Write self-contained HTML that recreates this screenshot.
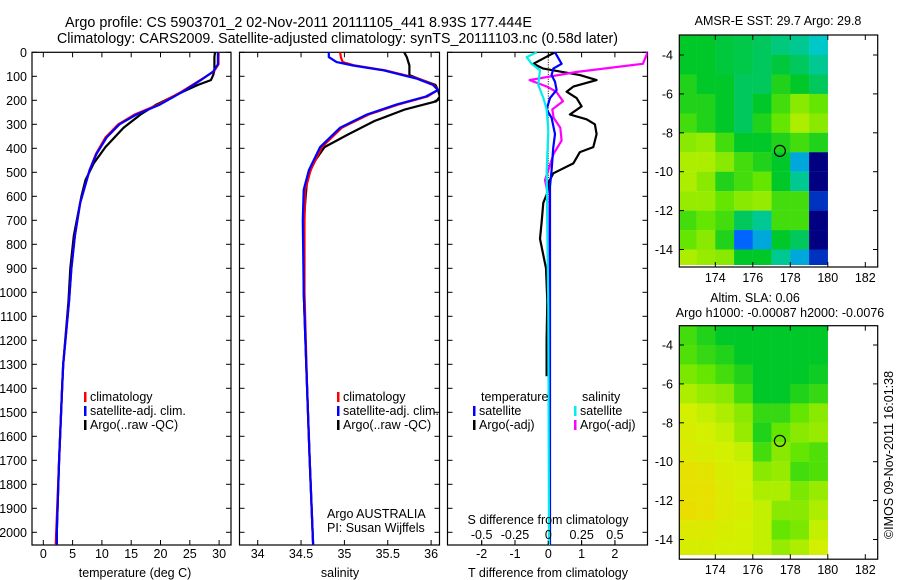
<!DOCTYPE html>
<html><head><meta charset="utf-8">
<style>
html,body{margin:0;padding:0;background:#fff;}
svg{display:block;font-family:"Liberation Sans",sans-serif;}
text{font-size:12.5px;fill:#000;}
</style></head>
<body>
<svg id="fig" width="900" height="580" viewBox="0 0 900 580" xmlns="http://www.w3.org/2000/svg">
<defs>
<clipPath id="c1"><rect x="32" y="52" width="199" height="493"/></clipPath>
<clipPath id="c2"><rect x="239.5" y="52" width="200" height="493"/></clipPath>
<clipPath id="c3"><rect x="447.5" y="52" width="200" height="493"/></clipPath>
</defs>
<text x="65" y="27" textLength="467" lengthAdjust="spacingAndGlyphs" style="font-size:14.3px">Argo profile: CS 5903701_2 02-Nov-2011 20111105_441 8.93S 177.444E</text>
<text x="57" y="43" textLength="561" lengthAdjust="spacingAndGlyphs" style="font-size:14.3px">Climatology: CARS2009. Satellite-adjusted climatology: synTS_20111103.nc (0.58d later)</text>
<text x="778" y="25" text-anchor="middle">AMSR-E SST: 29.7 Argo: 29.8</text>
<text x="755" y="302" text-anchor="middle">Altim. SLA: 0.06</text>
<text x="780" y="317" text-anchor="middle">Argo h1000: -0.00087 h2000: -0.0076</text>
<text transform="translate(893,455) rotate(-90)" text-anchor="middle">©IMOS 09-Nov-2011 16:01:38</text>
<g id="layer"></g>
</svg>
<script>
// ---------- data ----------
const depthTicks=[0,100,200,300,400,500,600,700,800,900,1000,1100,1200,1300,1400,1500,1600,1700,1800,1900,2000];
const tempTicks=[0,5,10,15,20,25,30];
const salTicks=[34,34.5,35,35.5,36];
const tdiffTicks=[-2,-1,0,1,2];
const sdiffTicks=[-0.5,-0.25,0,0.25,0.5];
const sdiffTickLabels=["-0.5","-0.25","0","0.25","0.5"];

const tempSatDepth=[0,50,80,116,164,218,259,300,355,423,491,559,627,764,900,1036,1300,1400,1700,2000,2060];
const tempSat=[29.8,29.8,29,26.9,23.8,19.9,15.9,13,10.8,9.1,7.9,7.1,6.3,5.4,4.8,4.4,3.4,3.2,2.7,2.3,2.3];
const tempClimDepth=[0,50,80,116,164,218,259,300,355,423,491,559,627,764,900,1036,1300,1400,1700,2000,2060];
const tempClim=[29.9,29.9,29.1,26.8,23.6,19.6,15.6,12.8,10.6,9.0,7.9,7.1,6.3,5.4,4.8,4.4,3.4,3.2,2.7,2.2,2.1];
const tempArgoDepth=[0,20,75,95,116,136,177,218,259,314,395,463,532,600,764,900,1036,1300,1400,1700,2000,2060];
const tempArgo=[29.3,29.2,29.2,29.0,28.6,26.4,22.7,19.3,16.6,13.7,10.6,8.6,7.2,6.5,5.2,4.6,4.3,3.4,3.2,2.7,2.3,2.3];

const salSatDepth=[0,20,41,55,75,109,136,157,184,218,259,314,395,491,573,700,1000,1400,1700,2060];
const salSat=[34.82,34.82,34.91,35.10,35.45,35.83,36.02,36.08,35.94,35.6,35.26,34.95,34.72,34.59,34.53,34.52,34.53,34.57,34.6,34.64];
const salClimDepth=[0,20,41,55,75,109,136,157,184,218,259,314,395,491,573,700,1000,1400,1700,2060];
const salClim=[34.95,34.96,34.98,35.12,35.47,35.85,36.03,36.08,35.96,35.62,35.28,34.97,34.74,34.61,34.55,34.54,34.54,34.57,34.6,34.64];
const salArgoDepth=[0,20,55,95,109,136,157,184,204,238,286,341,395,463,532,700,1000,1400,1700,2060];
const salArgo=[35.69,35.72,35.75,35.75,35.85,36.05,36.08,36.1,36.06,35.7,35.35,35.05,34.77,34.64,34.57,34.53,34.53,34.57,34.6,34.64];

const tdSatDepth=[0,48,68,95,123,157,191,238,273,341,395,491,559,1063,2060];
const tdSat=[0.2,0.4,0.15,0.1,0.2,0.25,0.05,-0.05,0.1,0.2,0.15,0.1,0.05,0.05,0.05];
const tdArgoDepth=[0,48,68,95,116,143,164,191,225,259,279,300,341,395,416,463,504,545,586,627,709,777,900,1036,1200,1350];
const tdArgo=[0.2,-0.45,-0.15,0.95,1.45,0.75,0.55,0.85,1.0,0.65,1.15,1.4,1.45,1.35,0.95,0.75,0.15,0,-0.03,-0.15,-0.2,-0.25,-0.07,-0.03,-0.05,-0.05];
const sdArgoDepth=[0,7,48,82,116,143,164,204,238,273,314,368,423,491,532,573,627,1000];
const sdArgo=[0.74,0.74,0.71,0.21,-0.14,-0.01,0.06,0.11,0.03,0.04,0.09,0.1,0.04,0,-0.025,-0.01,-0.005,0];
const sdSatDepth=[0,20,48,75,136,191,238,327,491,764,1063,2060];
const sdSat=[-0.087,-0.162,-0.125,-0.062,-0.075,-0.037,-0.012,0,-0.012,-0.007,0,0.005];

// map grids: rows lat -3..-15 (1 deg), cols lon 172..180
const sstGrid=[
[0.5,0.5,0.48,0.47,0.45,0.42,0.4,0.35],
[0.5,0.5,0.48,0.47,0.45,0.48,0.45,0.4],
[0.55,0.5,0.5,0.45,0.45,0.55,0.5,0.45],
[0.55,0.55,0.5,0.45,0.5,0.6,0.7,0.65],
[0.6,0.55,0.5,0.45,0.55,0.65,0.75,0.7],
[0.7,0.72,0.6,0.5,0.5,0.55,0.6,0.55],
[0.75,0.75,0.7,0.6,0.55,0.5,0.3,0.0],
[0.75,0.7,0.55,0.6,0.65,0.5,0.4,0.0],
[0.72,0.72,0.65,0.7,0.72,0.6,0.6,0.1],
[0.6,0.65,0.6,0.45,0.4,0.6,0.6,0.0],
[0.65,0.7,0.55,0.2,0.3,0.5,0.45,0.0],
[0.75,0.72,0.7,0.5,0.5,0.4,0.3,0.1]];
const slaGrid=[
[0.6,0.55,0.5,0.5,0.5,0.5,0.5,0.5],
[0.62,0.58,0.55,0.5,0.5,0.5,0.5,0.5],
[0.68,0.65,0.6,0.55,0.5,0.5,0.5,0.52],
[0.75,0.72,0.7,0.6,0.5,0.5,0.55,0.58],
[0.8,0.78,0.75,0.7,0.58,0.58,0.65,0.7],
[0.82,0.8,0.78,0.72,0.55,0.65,0.7,0.72],
[0.85,0.82,0.8,0.78,0.6,0.7,0.65,0.62],
[0.9,0.88,0.82,0.8,0.7,0.72,0.6,0.62],
[0.9,0.9,0.85,0.8,0.75,0.75,0.68,0.72],
[0.92,0.9,0.85,0.82,0.78,0.7,0.7,0.75],
[0.85,0.85,0.82,0.8,0.78,0.65,0.68,0.78],
[0.82,0.82,0.8,0.8,0.78,0.72,0.75,0.8]];
const lonTicks=[174,176,178,180,182];
const latTicks=[-4,-6,-8,-10,-12,-14];
const argoLon=177.444, argoLat=-8.93;

// ---------- helpers ----------
const NS="http://www.w3.org/2000/svg";
const layer=document.getElementById('layer');
function el(tag,attrs,parent){const e=document.createElementNS(NS,tag);for(const k in attrs)e.setAttribute(k,attrs[k]);(parent||layer).appendChild(e);return e;}
const yD=d=>52.3+d*0.24;
const xT=t=>43.3+t*5.86;
const xS=s=>257.7+(s-34)*86.7;
const xTD=t=>548.3+t*33.3;
const xSD=s=>548.3+s*133.3;
const Y0=52.3,Y1=545;

function frame(x0,x1,name){
  const r=el('rect',{x:x0,y:Y0,width:x1-x0,height:Y1-Y0,fill:'none',stroke:'#000','stroke-width':1.2});
  
  
  depthTicks.forEach(d=>{const y=yD(d);
    el('line',{x1:x0,x2:x0+5,y1:y,y2:y,stroke:'#000'});
    el('line',{x1:x1-5,x2:x1,y1:y,y2:y,stroke:'#000'});});
}
function xticks(xs,fn){xs.forEach(v=>{const x=fn(v);
  el('line',{x1:x,x2:x,y1:Y0,y2:Y0+5,stroke:'#000'});
  el('line',{x1:x,x2:x,y1:Y1-5,y2:Y1,stroke:'#000'});});}
function label(x,y,s,anchor,name){const t=el('text',{x:x,y:y,'text-anchor':anchor||'middle'});t.textContent=s;
  
  return t;}
function series(depths,vals,fx,color,clip,name,w){
  const pts=depths.map((d,i)=>fx(vals[i]).toFixed(1)+','+yD(d).toFixed(1)).join(' ');
  const p=el('polyline',{points:pts,fill:'none',stroke:color,'stroke-width':w||2.2,'clip-path':'url(#'+clip+')','stroke-linejoin':'round'});
  
  
}
function legend(x,y,color,txt,name){
  el('rect',{x:x,y:y-9,width:2.5,height:10,fill:color});
  label(x+6,y,txt,'start',name);
}

// ---------- panel 1: temperature ----------
frame(32,231,'temperature-panel');
xticks(tempTicks,xT);
depthTicks.forEach(d=>label(27,yD(d)+4.5,String(d),'end','depth-tick-label'));
tempTicks.forEach(t=>label(xT(t),558,String(t),'middle','temperature-tick-label'));
label(135,577,'temperature (deg C)','middle','temperature-axis-title');
series(tempArgoDepth,tempArgo,xT,'#000','c1','temperature-argo-line');
series(tempClimDepth,tempClim,xT,'#f00','c1','temperature-climatology-line');
series(tempSatDepth,tempSat,xT,'#00f','c1','temperature-satellite-line');
legend(84,401,'#f00','climatology','legend-climatology');
legend(84,415,'#00f','satellite-adj. clim.','legend-satellite');
legend(84,429,'#000','Argo(..raw -QC)','legend-argo');

// ---------- panel 2: salinity ----------
frame(239.5,439.5,'salinity-panel');
xticks(salTicks,xS);
salTicks.forEach(s=>label(xS(s),558,String(s),'middle','salinity-tick-label'));
label(340,577,'salinity','middle','salinity-axis-title');
series(salArgoDepth,salArgo,xS,'#000','c2','salinity-argo-line');
series(salClimDepth,salClim,xS,'#f00','c2','salinity-climatology-line');
series(salSatDepth,salSat,xS,'#00f','c2','salinity-satellite-line');
legend(337,401,'#f00','climatology','legend-climatology-2');
legend(337,415,'#00f','satellite-adj. clim.','legend-satellite-2');
legend(337,429,'#000','Argo(..raw -QC)','legend-argo-2');
label(327,518,'Argo AUSTRALIA','start','argo-australia-label');
label(327,532,'PI: Susan Wijffels','start','pi-label');

// ---------- panel 3: differences ----------
frame(447.5,647.5,'difference-panel');
xticks(tdiffTicks,xTD);
for(let d=0;d<=620;d+=10){el('rect',{x:xTD(0)-0.5,y:yD(d),width:1,height:1,fill:'#000'});}
series(tdArgoDepth,tdArgo,xTD,'#000','c3','tdiff-argo-line');
series(sdArgoDepth,sdArgo,xSD,'#f0f','c3','sdiff-argo-line');
series(tdSatDepth,tdSat,xTD,'#00f','c3','tdiff-satellite-line');
series(sdSatDepth,sdSat,xSD,'#0ee','c3','sdiff-satellite-line');
tdiffTicks.forEach(t=>label(xTD(t),558,String(t),'middle','tdiff-tick-label'));
sdiffTicks.forEach((s,i)=>label(xSD(s),539,sdiffTickLabels[i],'middle','sdiff-tick-label'));
sdiffTicks.forEach(s=>el('line',{x1:xSD(s),x2:xSD(s),y1:Y1-4,y2:Y1,stroke:'#000'}));
label(548,524,'S difference from climatology','middle','sdiff-axis-title');
label(548,577,'T difference from climatology','middle','tdiff-axis-title');
label(481,401,'temperature','start','legend-temperature-heading');
label(582,401,'salinity','start','legend-salinity-heading');
legend(473,415,'#00f','satellite','legend-t-satellite');
legend(473,429,'#000','Argo(-adj)','legend-t-argo');
legend(574,415,'#0ee','satellite','legend-s-satellite');
legend(574,429,'#f0f','Argo(-adj)','legend-s-argo');

// ---------- maps ----------
const cmapStops=[[0,[0,0,128]],[0.2,[0,100,255]],[0.35,[0,200,200]],[0.5,[0,200,40]],[0.65,[100,230,0]],[0.8,[210,240,0]],[1,[250,210,0]]];
function cmap(v){for(let i=1;i<cmapStops.length;i++){if(v<=cmapStops[i][0]){const[a,ca]=cmapStops[i-1],[b,cb]=cmapStops[i];const f=(v-a)/(b-a);
  return 'rgb('+ca.map((c,k)=>Math.round(c+(cb[k]-c)*f)).join(',')+')';}}return 'rgb(250,210,0)';}
const xL=lon=>679.3+(lon-172.08)*18.75;
function map(grid,top,lat4y,name){
  const yLat=lat=>lat4y+(-4-lat)*19.45;
  const cid='clip'+name;
  const cp=el('clipPath',{id:cid});
  el('rect',{x:xL(172.08),y:top,width:xL(180.13)-xL(172.08),height:yLat(-14.8)-top},cp);
  const g=el('g',{'clip-path':'url(#'+cid+')'});
  
  
  grid.forEach((row,r)=>row.forEach((v,c)=>{
    const x=xL(172+c),y=yLat(-3-r);
    const cell=el('rect',{x:x,y:y,width:18.9,height:19.6,fill:cmap(v)},g);
    
    
  }));
  const bottom=top+(name==='sst-map'?232:233.5);
  const fr=el('rect',{x:679.3,y:top,width:198.4,height:bottom-top,fill:'none',stroke:'#000','stroke-width':1.2});
  
  
  lonTicks.forEach(l=>{const x=xL(l);
    el('line',{x1:x,x2:x,y1:bottom-5,y2:bottom,stroke:'#000'});
    el('line',{x1:x,x2:x,y1:top,y2:top+5,stroke:'#000'});
    label(x,bottom+15,String(l),'middle',name+'-lon-label');});
  latTicks.forEach(l=>{const y=yLat(l);
    el('line',{x1:679.3,x2:684,y1:y,y2:y,stroke:'#000'});
    el('line',{x1:873,x2:877.7,y1:y,y2:y,stroke:'#000'});
    label(673,y+4.5,String(l),'end',name+'-lat-label');});
  const c=el('circle',{cx:xL(argoLon),cy:yLat(argoLat),r:5.5,fill:'none',stroke:'#000','stroke-width':1.2});
  
  
}
map(sstGrid,35,55,'sst-map');
map(slaGrid,325.7,345,'sla-map');
</script>
</body></html>
